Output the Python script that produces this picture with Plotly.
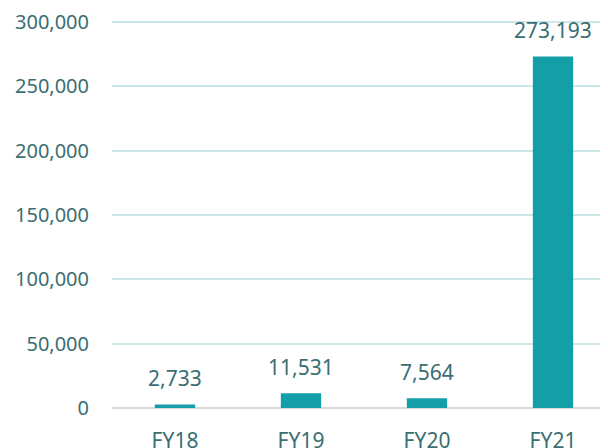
import plotly.graph_objects as go

categories = ["FY18", "FY19", "FY20", "FY21"]
values = [2733, 11531, 7564, 273193]
y_ticks = [0, 50000, 100000, 150000, 200000, 250000, 300000]
y_tick_labels = ["0", "50,000", "100,000", "150,000", "200,000", "250,000", "300,000"]

bar_color = "#149EA7"
text_color = "#3A6E72"
font_family = "Noto Sans"

fig = go.Figure()
fig.add_trace(go.Bar(
    x=list(range(len(categories))),
    y=values,
    width=0.32,
    marker=dict(color=bar_color, line=dict(width=0)),
    hoverinfo="skip",
))

annotations = [
    dict(x=i, y=v, text=f"{v:,}", showarrow=False, yanchor="bottom",
         yshift=10, font=dict(family=font_family, size=21, color=text_color))
    for i, v in enumerate(values)
]

fig.update_layout(
    width=608, height=448,
    margin=dict(l=104, r=0, t=12, b=48),
    paper_bgcolor="white", plot_bgcolor="white",
    showlegend=False,
    annotations=annotations,
    font=dict(family=font_family, size=21, color=text_color),
    xaxis=dict(
        range=[-0.5, 3.5],
        tickmode="array",
        tickvals=list(range(len(categories))),
        ticktext=categories,
        showgrid=False,
        zeroline=False,
        showline=False,
        ticks="outside", ticklen=14, tickcolor="rgba(0,0,0,0)",
        tickfont=dict(family=font_family, size=21, color=text_color),
    ),
    yaxis=dict(
        range=[0, 301554],
        tickmode="array",
        tickvals=y_ticks,
        ticktext=y_tick_labels,
        showgrid=True, gridcolor="#CBE7EA", gridwidth=2,
        zeroline=True, zerolinecolor="#D9D9D9", zerolinewidth=2,
        showline=False,
        ticklabelstandoff=22,
        tickfont=dict(family=font_family, size=20, color=text_color),
    ),
)

fig.write_html("out.html")
